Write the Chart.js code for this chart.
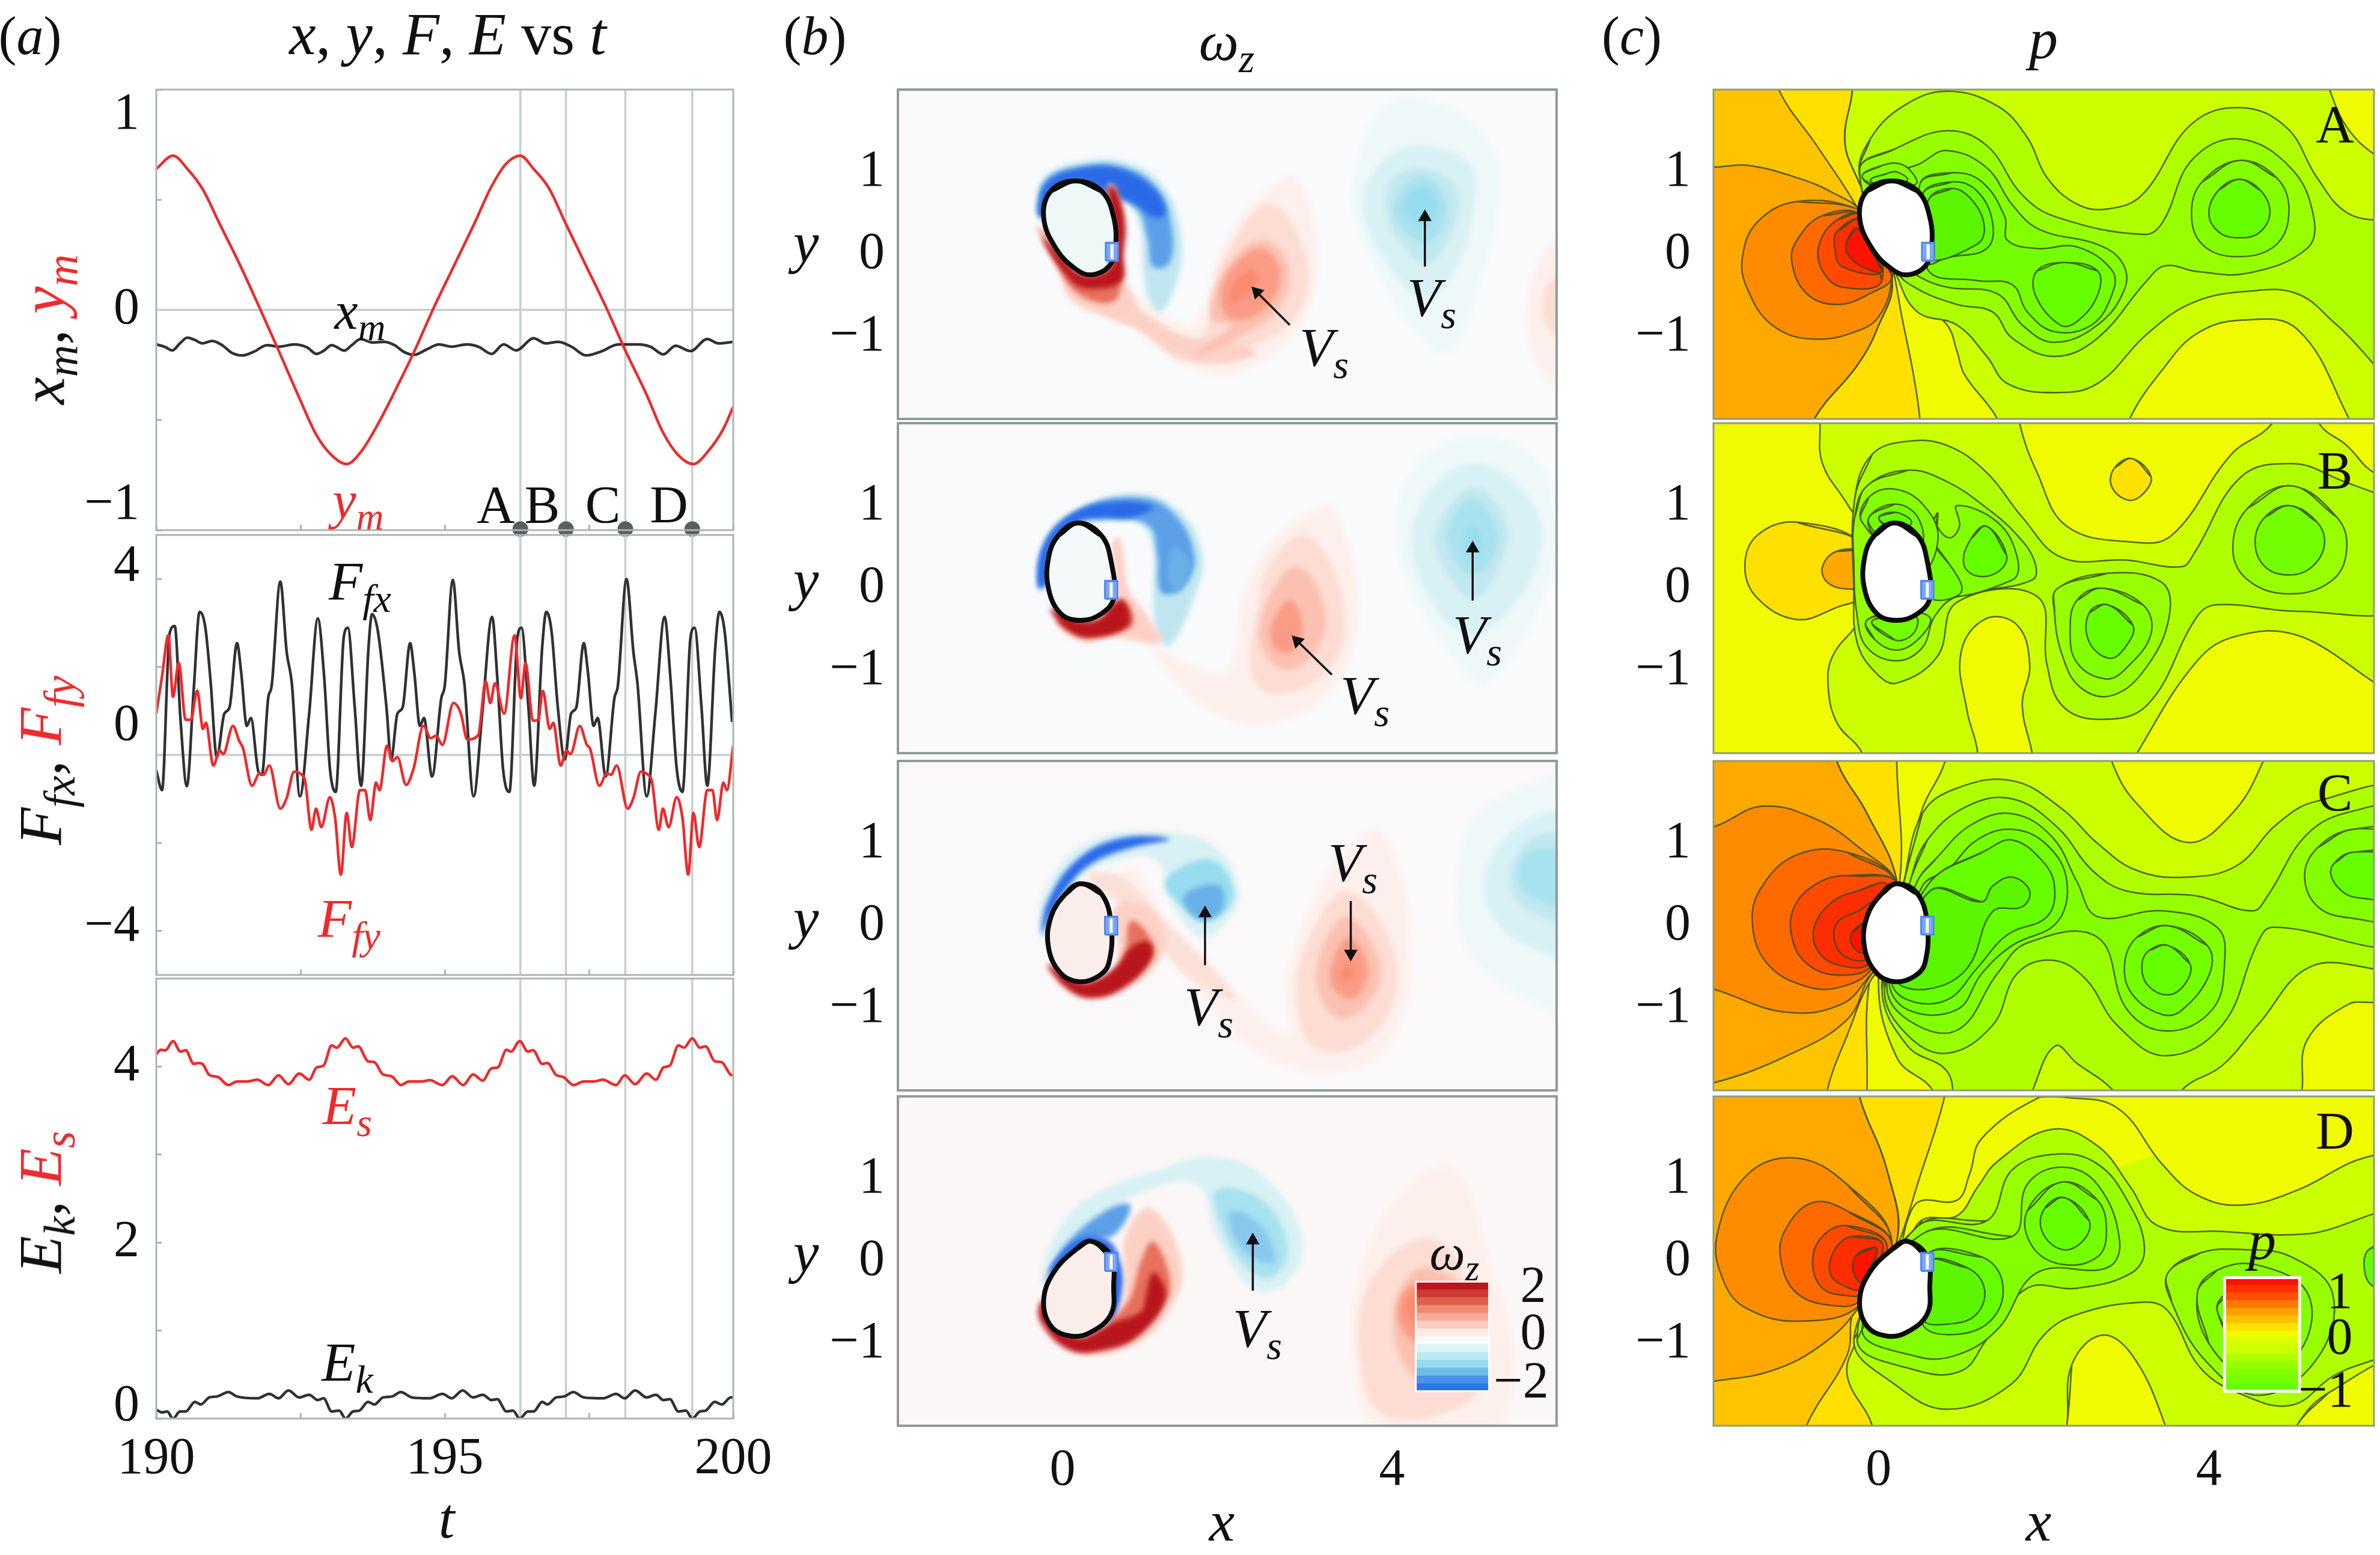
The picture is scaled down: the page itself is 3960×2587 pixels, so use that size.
<!DOCTYPE html>
<html>
<head>
<meta charset="utf-8">
<title>x, y, F, E vs t</title>
<script src="https://cdn.jsdelivr.net/npm/chart.js@4/dist/chart.umd.min.js"></script>
<style>
  html, body { margin: 0; padding: 0; background: #fff; }
  #page { position: relative; width: 3960px; height: 2587px; overflow: hidden; background: #fff; }
  canvas { position: absolute; }
  .lbl { position: absolute; transform: translate(-50%, -50%); white-space: nowrap; font-family: "Liberation Serif", serif; color: #111; z-index: 10; line-height: 1; }
  .lbl sub { font-size: 0.72em; vertical-align: -0.3em; line-height: 0; }
</style>
</head>
<body>
<div id="page"></div>
<script>
// ---- time series ----
var ymTime = [190,190.29,190.54,190.80,191.10,191.44,191.79,192.13,192.48,192.78,193.04,193.30,193.56,193.86,194.21,194.47,194.81,195.16,195.51,195.81,196.07,196.31,196.54,196.80,197.10,197.45,197.80,198.14,198.49,198.79,199.05,199.31,199.57,199.83,200];
var ymValue = [.64,.70,.64,.55,.39,.21,.01,-.19,-.40,-.57,-.66,-.70,-.64,-.51,-.33,-.19,.01,.20,.39,.56,.665,.70,.64,.555,.39,.20,.01,-.19,-.38,-.56,-.66,-.70,-.64,-.54,-.44];
var xmTime = [190,190.15,190.28,190.41,190.54,190.67,190.80,190.97,191.14,191.31,191.49,191.70,191.92,192.13,192.39,192.61,192.78,192.91,193.04,193.26,193.39,193.54,193.74,193.95,194.13,194.30,194.47,194.69,194.90,195.12,195.38,195.59,195.81,196.02,196.24,196.54,196.75,196.97,197.20,197.45,197.71,198.01,198.35,198.57,198.79,199.00,199.26,199.55,199.74,200];
var xmValue = [-.157,-.168,-.184,-.152,-.126,-.137,-.152,-.141,-.16,-.195,-.207,-.189,-.16,-.167,-.157,-.17,-.2,-.184,-.16,-.185,-.16,-.132,-.148,-.145,-.16,-.192,-.204,-.179,-.157,-.167,-.157,-.168,-.2,-.157,-.184,-.129,-.152,-.145,-.168,-.207,-.189,-.157,-.157,-.168,-.202,-.163,-.187,-.132,-.152,-.145];
var ffxTime = [190.00,190.10,190.23,190.32,190.42,190.53,190.65,190.75,190.85,190.94,191.05,191.18,191.27,191.40,191.47,191.57,191.64,191.77,191.83,191.94,192.00,192.15,192.26,192.35,192.49,192.65,192.80,192.91,193.01,193.11,193.25,193.32,193.44,193.55,193.68,193.74,193.84,193.99,194.07,194.18,194.27,194.40,194.47,194.57,194.64,194.78,194.94,195.00,195.14,195.25,195.34,195.50,195.65,195.82,195.91,196.01,196.12,196.26,196.33,196.45,196.55,196.69,196.76,196.85,196.96,197.08,197.19,197.28,197.41,197.48,197.58,197.65,197.79,197.94,198.00,198.15,198.27,198.34,198.50,198.65,198.81,198.91,199.02,199.12,199.26,199.33,199.45,199.55,199.69,199.76,199.85,199.98];
var ffxValue = [-.35,-.80,2.75,2.93,.8,-.71,1.5,3.25,2.9,1.7,-.05,.94,1.08,2.54,1.9,.66,.84,-.38,-.45,1.29,1.57,3.94,2.34,1.63,-.94,.94,3.1,1.77,-.31,-.84,2.68,2.89,1.08,-.7,2.47,3.2,2.82,1.08,-.1,.94,1.08,2.54,1.9,.66,.84,-.49,1.29,1.57,3.98,2.34,1.63,-.94,.94,3.14,1.77,-.31,-.84,2.68,2.89,1.08,-.7,2.47,3.25,2.82,1.08,-.1,.94,1.08,2.54,1.9,.66,.84,-.49,1.29,1.57,4.0,2.34,1.63,-.94,.94,3.14,1.77,-.31,-.84,2.68,2.89,1.08,-.7,2.47,3.25,2.82,.75];
var ffyTime = [190.00,190.10,190.21,190.29,190.39,190.51,190.60,190.71,190.81,190.86,190.99,191.10,191.16,191.33,191.44,191.50,191.66,191.79,191.86,191.96,192.15,192.26,192.39,192.52,192.58,192.69,192.77,192.86,193.01,193.10,193.20,193.30,193.39,193.53,193.62,193.71,193.81,193.87,194.00,194.09,194.18,194.33,194.46,194.63,194.76,194.85,194.96,195.15,195.28,195.39,195.58,195.71,195.79,195.87,196.03,196.21,196.32,196.40,196.53,196.62,196.70,196.82,196.88,197.01,197.11,197.18,197.34,197.46,197.52,197.68,197.81,197.88,197.98,198.17,198.27,198.40,198.52,198.59,198.71,198.78,198.88,199.02,199.12,199.22,199.31,199.41,199.55,199.64,199.72,199.83,199.89,200.00];
var ffyValue = [.94,1.78,2.72,1.32,2.09,.80,.80,1.46,.59,.73,-.24,.10,.02,.66,.31,.17,-.70,-.42,-.45,-.24,-1.22,-.98,-.38,-.45,-.59,-1.70,-1.22,-1.64,-.96,-1.43,-2.72,-1.32,-2.09,-.80,-.80,-1.48,-.63,-.80,.21,-.14,-.05,-.68,-.31,.66,.38,.44,.23,1.18,.94,.35,.45,1.67,1.18,1.63,.94,2.72,1.29,2.09,.78,.80,1.46,.59,.73,-.24,.10,.02,.66,.24,.14,-.70,-.42,-.45,-.24,-1.22,-.98,-.38,-.45,-.59,-1.70,-1.22,-1.64,-.96,-1.43,-2.72,-1.32,-2.09,-.80,-.80,-1.48,-.63,-.80,.21];
var esTime = [190,190.08,190.16,190.29,190.42,190.51,190.65,190.73,190.80,190.92,191.07,191.25,191.40,191.57,191.75,191.94,192.12,192.29,192.48,192.65,192.78,192.90,193.04,193.13,193.28,193.41,193.50,193.67,193.78,193.93,194.08,194.24,194.38,194.60,194.74,194.96,195.13,195.32,195.49,195.66,195.81,195.92,196.07,196.15,196.30,196.44,196.53,196.69,196.78,196.93,197.06,197.23,197.41,197.58,197.74,197.97,198.12,198.30,198.50,198.66,198.79,198.90,199.05,199.15,199.29,199.42,199.52,199.68,199.80,199.96,200];
var esValue = [4.14,4.19,4.185,4.29,4.17,4.185,4.03,4.04,4.03,3.905,3.88,3.79,3.83,3.83,3.85,3.79,3.90,3.80,3.92,3.85,3.99,4.01,4.24,4.215,4.32,4.215,4.23,4.06,4.05,3.91,3.89,3.79,3.83,3.83,3.845,3.79,3.89,3.79,3.91,3.84,3.98,3.99,4.19,4.17,4.29,4.17,4.185,4.03,4.04,3.905,3.88,3.79,3.83,3.83,3.85,3.79,3.90,3.80,3.92,3.85,3.99,4.01,4.24,4.215,4.32,4.215,4.23,4.06,4.05,3.905,3.90];
var ekTime = [190,190.10,190.19,190.29,190.41,190.51,190.67,190.77,190.92,191.05,191.25,191.40,191.75,191.96,192.12,192.29,192.48,192.65,192.80,192.90,193.04,193.17,193.28,193.41,193.52,193.67,193.78,193.93,194.08,194.24,194.43,194.73,194.96,195.12,195.31,195.49,195.66,195.81,195.91,196.07,196.18,196.30,196.44,196.54,196.69,196.78,196.93,197.06,197.23,197.41,197.74,197.97,198.12,198.30,198.50,198.66,198.79,198.90,199.05,199.18,199.29,199.42,199.52,199.68,199.80,199.96,200];
var ekValue = [.10,.07,.08,0,.08,.08,.19,.16,.24,.25,.30,.25,.23,.28,.23,.32,.24,.27,.21,.23,.08,.09,0,.08,.09,.19,.16,.24,.25,.30,.24,.23,.28,.23,.32,.24,.27,.21,.22,.08,.09,0,.08,.08,.19,.16,.24,.25,.30,.24,.23,.28,.23,.32,.24,.27,.21,.22,.08,.09,0,.08,.09,.19,.16,.24,.24];
var eventTimes = [196.31, 197.1, 198.13, 199.29];

var timeTicks = [190, 192.5, 195, 197.5, 200];
var timeTickLabels = ["190", "", "195", "", "200"];
var ymTicks = [-1, -0.5, 0, 0.5, 1];
var ymTickLabels = ["\u22121", "", "0", "", "1"];
var forceTicks = [-4, -2, 0, 2, 4];
var forceTickLabels = ["\u22124", "", "0", "", "4"];
var energyTicks = [0, 1, 2, 3, 4];
var energyTickLabels = ["0", "", "2", "", "4"];
var fieldXTicks = [0, 2, 4];
var fieldXLabels = ["0", "", "4"];
var fieldYTicks = [-1, 0, 1];
var fieldYLabels = ["\u22121", "0", "1"];

// ---- cylinder outline per instant A, B, C, D ----
var bodyA = [.16,.89,.47,.77,.62,.45,.64,.07,.56,-.15,.35,-.25,.16,-.18,-.08,.07,-.23,.45,-.14,.77];
var bodyB = [.19,.79,.47,.64,.59,.32,.62,-.12,.47,-.31,.22,-.39,-.02,-.31,-.17,-.01,-.17,.37,-.05,.64];
var bodyC = [.22,.51,.47,.39,.59,.01,.56,-.46,.44,-.61,.2,-.68,-.02,-.58,-.17,-.27,-.14,.11,.04,.39];
var bodyD = [.35,.24,.59,.05,.62,-.32,.59,-.64,.35,-.86,.1,-.91,-.14,-.79,-.23,-.48,-.11,-.14,.16,.14];
var sensorX = [.6, .59, .59, .59];
var sensorY = [.03, -.02, 0, -.01];

// ---- vorticity levels ----
var omegaColors = ["#b8161c","#e8705c","#fa8a70","#fa9b85","#fbc0b0","#fcd0c5","#fcdcd3","#fbe0d8","#fdf0ec","#eef8f9","#d8f1f4","#c0e8f0","#bfe6f0","#a8e1ef","#97dcef","#88c8ec","#6ab0e8","#5b9fe8","#2a6ae8"];
var omegaBarColors = ["#b8161c","#cf3a34","#e0604f","#ee8a74","#f6ac98","#fbcdc0","#fdeae5","#f6fafa","#ddf3f5","#bce8f0","#98d8ee","#6cbcea","#4a94e8","#2f74e6"];

var omegaA = [
  [8, 2.85,.91, 3.1,-.1, 2.85,-.91, 2.11,-1.46, 1.5,-1.35, .88,-.91, .52,-.59, .39,-.37, .88,-.48, 1.5,-.86, 1.68,-.7, 1.93,.07, 2.42,.72],
  [6, 2.51,.61, 2.97,-.1, 2.79,-.8, 2.11,-1.18, 1.5,-1.3, 1.19,-1.08, 1.5,-1.13, 1.75,-.91, 1.81,-.53, 1.99,.01],
  [5, .45,-.55, .9,-.9, 1.4,-1.22, 1.9,-1.32, 2.35,-1.2, 2.0,-1.05, 1.5,-1.0, 1.0,-.72, .7,-.5],
  [4, 2.39,.17, 2.73,-.1, 2.64,-.64, 2.11,-1.02, 1.62,-1.21, 2.05,-.86, 1.81,-.8, 1.93,-.26],
  [3, 2.39,.07, 2.64,-.2, 2.48,-.64, 2.11,-.8, 1.93,-.64, 1.99,-.26],
  [2, 2.3,-.2, 2.36,-.32, 2.11,-.59, 2.02,-.53, 2.11,-.32],
  [9, 3.9,1.8, 4.5,1.86, 5.19,1.37, 5.31,.72, 5.06,-.37, 4.69,-1.18, 4.26,-.91, 3.65,.17, 3.53,.88],
  [10, 4.36,1.32, 4.94,1.1, 5.0,.61, 4.76,-.21, 4.39,-.53, 3.9,-.04, 3.65,.61, 3.9,1.15],
  [11, 4.36,1.04, 4.76,.83, 4.79,.45, 4.45,-.1, 4.08,.17, 3.93,.61, 4.02,.93],
  [13, 4.36,.95, 4.66,.61, 4.47,.15, 4.15,.28, 4.03,.61],
  [14, 4.38,.82, 4.56,.61, 4.39,.34, 4.18,.5, 4.17,.68],
  [8, 5.68,-.37, 6.0,.17, 6.4,0, 6.4,-1.3, 6,-1.57, 5.68,-1.13],
  [6, 5.9,-.37, 6.4,-.2, 6.4,-1.0, 5.9,-.9],
  [12, -.32,.6, -.2,.95, .21,1.12, .75,1.12, 1.2,.85, 1.42,.35, 1.42,-.2, 1.2,-.7, 1.05,-.55, .98,-.2, .95,.3, .8,.6, .4,.75, .1,.85, -.1,.7, -.25,.4],
  [17, -.3,.55, -.2,.9, .21,1.06, .72,1.06, 1.15,.8, 1.32,.35, 1.3,-.1, 1.1,-.15, 1.03,.2, .9,.55, .45,.78, .15,.88, -.1,.7, -.25,.45],
  [18, -.3,.55, -.18,.88, .21,1.04, .68,1.04, 1.1,.8, 1.25,.5, 1.1,.45, .9,.6, .45,.8, .15,.9, -.1,.72, -.25,.45],
  [5, -.32,.35, -.05,-.2, .1,-.55, .5,-.75, .9,-.85, .85,-.5, .72,-.2, .7,.4, .65,.8, .55,.85, .64,.2, .6,-.15, .35,-.3, .1,-.2],
  [1, -.28,.32, -.05,-.15, .12,-.42, .4,-.58, .65,-.55, .7,-.25, .6,-.2, .35,-.3, .1,-.2],
  [0, -.25,.2, .1,-.32, .35,-.42, .72,-.32, .74,0, .76,.4, .64,.8, .55,.8, .64,.2, .58,-.15, .36,-.26, .12,-.18]
];
var omegaB = [
  [8, 3.28,.97, 3.59,-.12, 3.34,-1.15, 2.54,-1.64, 1.68,-1.42, 1.01,-.61, 1.44,-.88, 1.99,-.99, 2.18,-.12, 2.48,.48, 2.97,.91],
  [6, 2.97,.64, 3.4,-.12, 3.28,-.93, 2.6,-1.29, 2.3,-1.04, 2.36,-.28, 2.54,.32],
  [4, 2.85,.26, 3.18,-.23, 3.1,-.72, 2.73,-.99, 2.42,-.72, 2.48,-.17],
  [3, 2.76,-.15, 2.91,-.45, 2.79,-.77, 2.57,-.72, 2.54,-.45],
  [9, 4.88,1.84, 5.8,1.51, 6.0,.42, 5.19,-1.15, 4.69,-.77, 4.08,.42, 4.2,1.35],
  [10, 4.97,1.51, 5.68,1.08, 5.8,.42, 5.31,-.39, 4.88,-.55, 4.33,.15, 4.33,.97],
  [11, 4.97,1.21, 5.37,.86, 5.37,.42, 5.0,-.12, 4.63,.26, 4.54,.7],
  [13, 4.97,1.08, 5.28,.7, 5.19,.32, 4.97,.15, 4.76,.37, 4.68,.7],
  [14, 4.97,.75, 5.09,.56, 4.97,.37, 4.88,.56],
  [12, -.28,.1, -.2,.6, .2,.95, .85,1.15, 1.4,.95, 1.7,.4, 1.6,-.1, 1.3,-.7, 1.15,-.55, 1.1,-.1, 1.1,.5, .9,.8, .4,.8, .05,.7, -.1,.4, -.18,0],
  [17, -.3,.05, -.2,.55, .2,.95, .85,1.1, 1.3,.95, 1.6,.4, 1.45,0, 1.2,-.05, 1.15,.4, 1.05,.75, .6,.85, .15,.8, -.1,.55, -.18,.1],
  [16, 1.35,.5, 1.55,.3, 1.4,-.05, 1.28,.1],
  [18, -.3,0, -.22,.55, .15,.92, .7,1.05, 1.1,.98, .8,.85, .5,.85, .17,.8, -.1,.55, -.2,.05],
  [5, -.1,-.4, .25,-.65, .6,-.6, 1.2,-.65, 1.0,-.3, .8,0, .7,.6, .6,.55, .65,-.1, .45,-.4, .2,-.4],
  [1, -.05,-.4, .25,-.58, .7,-.5, .85,-.45, .8,-.2, .65,-.15, .45,-.4, .2,-.43],
  [0, -.15,-.25, .05,-.5, .35,-.6, .8,-.45, .74,-.15, .62,-.2, .45,-.37, .22,-.4, 0,-.3]
];
var omegaC = [
  [8, 3.9,1.11, 4.23,-.33, 3.96,-1.45, 3.34,-1.76, 2.73,-1.7, 2.11,-1.33, 1.5,-.58, 1.0,.1, .58,.55, .88,.68, 1.25,.05, 2.05,-.76, 2.73,-1.32, 2.73,-.64, 3.1,.42, 3.53,.99],
  [6, 3.47,.42, 4.05,-.45, 3.77,-1.33, 3.1,-1.51, 2.85,-.95, 2.97,-.2],
  [4, 3.47,.11, 3.86,-.51, 3.65,-1.01, 3.34,-1.11, 3.1,-.76, 3.16,-.26],
  [3, 3.47,-.14, 3.71,-.54, 3.5,-.89, 3.25,-.64],
  [2, 3.47,-.48, 3.54,-.58, 3.45,-.67, 3.38,-.58],
  [9, 6.4,1.7, 5.19,1.49, 4.82,.8, 4.94,-.33, 5.86,-1.01, 6.4,-1.2],
  [10, 6.4,1.2, 5.8,1.36, 5.19,.8, 5.19,.17, 5.68,-.26, 6.4,-.4],
  [11, 6.4,.9, 5.8,1.11, 5.43,.61, 5.68,.17, 6.4,.05],
  [13, 6.4,.75, 5.74,.92, 5.52,.64, 5.74,.33, 6.4,.25],
  [7, .3,.6, .7,.6, 1.3,0, 1.9,-.6, 2.1,-.9, 1.5,-.6, .9,.1],
  [10, -.28,-.14, -.22,.42, .27,.99, 1.0,1.14, 1.81,.99, 2.14,.42, 1.99,.05, 1.68,-.14, 1.31,.3, 1.13,.8, .58,.77, .15,.55, -.16,.18, -.16,-.14],
  [14, 1.25,.55, 1.81,.8, 2.08,.36, 1.75,.05, 1.44,.24],
  [16, 1.47,.36, 1.9,.49, 1.93,.18, 1.65,.08],
  [18, -.25,-.1, -.18,.3, .2,.82, .75,1.07, 1.3,1.05, .85,.95, .35,.75, .05,.45, -.15,.1],
  [5, -.2,-.5, .2,-.85, .75,-.78, 1.22,-.35, 1.15,.1, .85,.3, .62,.2, .68,-.3, .55,-.62, .2,-.7, -.05,-.55],
  [1, .3,-.8, .75,-.68, 1.1,-.35, 1.0,-.05, .82,.05, .76,-.3, .6,-.6],
  [0, -.18,-.47, .05,-.76, .35,-.88, .75,-.75, 1.08,-.4, 1.05,-.2, .85,-.25, .65,-.5, .35,-.68, .1,-.65]
];
var omegaD = [
  [8, 4.75,1.14, 5.19,-.01, 5.49,-1.26, 5.19,-2.07, 3.83,-2.01, 3.53,-1.14, 3.65,-.01, 4.14,.86],
  [6, 4.57,.24, 5.0,-.64, 5.06,-1.58, 3.95,-1.89, 3.59,-.95, 3.9,-.01],
  [4, 4.38,-.08, 5.12,-.64, 4.88,-1.39, 4.26,-1.39, 4.02,-.64],
  [3, 4.33,-.26, 4.88,-.51, 4.57,-1.08, 4.17,-.89, 4.08,-.51],
  [2, 4.26,-.39, 4.57,-.58, 4.36,-.83, 4.17,-.61],
  [10, 1.25,1.14, 1.81,1.27, 2.42,1.05, 2.91,.3, 2.73,-.26, 2.3,-.33, 1.87,.3, 1.62,.93, .88,.8, .52,.55, -.16,-.01, -.28,-.32, -.16,.18, .27,.74],
  [13, 1.87,.86, 2.42,.74, 2.73,.18, 2.54,-.2, 2.24,-.08, 1.93,.42],
  [15, 2.05,.61, 2.42,.42, 2.57,-.01, 2.3,.05, 2.08,.3],
  [17, -.22,-.26, .02,.18, .52,.61, .82,.68, .64,.33, .33,.24, .02,-.01],
  [18, -.16,-.14, .15,.24, .52,.27, .7,-.01, .72,-.4, .58,-.76, .55,-.2, .3,.1],
  [5, 1.07,.64, 1.44,-.01, 1.31,-.58, .88,-1.01, .15,-1.11, -.28,-.76, -.25,-.45, .09,-.89, .58,-.83, .76,-.32, .76,.3],
  [1, 1.1,.24, 1.31,-.26, 1.19,-.58, .82,-.95, .58,-.8, .82,-.45, .95,-.01],
  [0, 1.1,-.14, 1.25,-.45, .9,-.92, .52,-1.08, .09,-1.08, -.27,-.72, -.24,-.5, .15,-.92, .58,-.76, .98,-.58]
];
var omegaBodyFill = ["#eef8f7", "#f4fafa", "#fbeeea", "#fbeeea"];

// arrows: tail x, tail y, head x, head y, per panel
var arrowsA = [[2.76,-.86,2.36,-.46],[4.4,-.15,4.4,.45]];
var arrowsB = [[3.27,-1.05,2.85,-.64],[4.98,-.15,4.98,.48]];
var arrowsC = [[1.73,-.48,1.73,.15],[3.5,.3,3.5,-.34]];
var arrowsD = [[2.31,-.36,2.31,.25]];

// ---- pressure levels ----
var pressureColors = ["#ff1200","#ff2e00","#ff4a00","#ff6a00","#ff8c00","#ffa800","#ffc400","#ffe000","#f0fa00","#ccff00","#b0ff00","#98ff00","#84ff00","#74ff00","#66ff00","#5cf500"];
var pressureBarColors = ["#ff1200","#ff3000","#ff5000","#ff7800","#ffa000","#ffc000","#ffe000","#f0fa00","#d8ff00","#ccff00","#b0ff00","#98ff00","#84ff00","#74ff00","#66ff00"];
var pressureBgLevel = [9, 8, 9, 9];

var pressureA = [
  [8, -3,2.3, -.32,2.3, -.32,1.98, -.41,1.37, -.25,.9, .1,.2, .35,-.4, .83,-.86, .95,-1.18, 1.04,-1.46, 1.44,-2, 1.5,-2.3, -3,-2.3],
  [8, 3.0,-2.3, 3.04,-2, 3.44,-1.4, 3.86,-.96, 4.41,-.8, 5.07,-.91, 5.7,-2, 5.8,-2.3],
  [8, 5.4,2.3, 5.47,1.98, 5.68,1.53, 6.02,1.2, 6.4,1.0, 6.4,2.3],
  [7, -3,2.3, -.32,2.3, -.32,1.98, -.41,1.37, -.25,.9, .1,.2, .2,-.3, .28,-.75, .42,-1.45, .5,-2, .5,-2.3, -3,-2.3],
  [6, -3,2.3, -1.22,2.3, -1.2,1.98, -.75,1.32, -.25,.55, .16,-.3, -.02,-.91, -.26,-1.35, -.78,-2, -.8,-2.3, -3,-2.3],
  [5, -3,1.1, -2,1.06, -1.59,1.08, -.99,.93, -.56,.75, -.2,.5, .16,-.3, -.02,-.91, -.26,-1.35, -.78,-2, -.8,-2.3, -3,-2.3],
  [4, -.26,.55, -.99,.64, -1.47,.39, -1.65,-.04, -1.59,-.42, -1.29,-.86, -.8,-1.03, -.2,-.91, .04,-.7, .16,-.32, .2,.2],
  [3, -.2,.47, -.68,.47, -.99,.17, -1.05,-.1, -.87,-.48, -.5,-.61, -.11,-.48, .16,-.26],
  [2, -.2,.47, -.5,.42, -.72,.12, -.68,-.2, -.44,-.4, .04,-.32],
  [1, -.2,.42, -.5,.28, -.53,.07, -.44,-.15, .04,-.2],
  [0, -.25,.31, -.38,.17, -.38,.01, -.2,-.15, .04,-.2],
  [10, -.23,.95, -.1,1.4, .3,1.8, .83,1.98, 1.44,1.8, 1.8,1.42, 2.04,.93, 2.4,.61, 2.77,.55, 3.19,.72, 3.8,1.59, 4.41,1.78, 4.95,1.53, 5.31,.93, 5.68,.5, 6.4,.25, 6.4,-1.6, 5.55,-.86, 5.07,-.48, 4.47,-.45, 3.8,-.59, 3.25,-.97, 2.65,-1.57, 2.13,-1.68, 1.56,-1.57, 1.31,-1.24, .95,-.86, .47,-.7, .22,-.26],
  [11, -.23,1.02, .22,1.29, .83,1.5, 1.31,1.32, 1.74,.72, 2.16,.45, 3.22,.24, 3.44,.39, 3.8,1.15, 4.37,1.4, 5.0,1.04, 5.27,.45, 5.19,.07, 4.47,-.23, 3.86,-.21, 3.47,-.14, 3.25,-.32, 2.65,-1.02, 2.13,-1.24, 1.62,-1.02, 1.38,-.7, .95,-.61, .47,-.42, .22,-.2],
  [12, .1,.9, .5,1.1, .83,1.26, 1.31,1.05, 1.62,.6, 1.95,.3, 2.65,.12, 2.95,-.1, 2.98,-.42, 2.65,-.86, 2.13,-1.07, 1.74,-.86, 1.44,-.48, .83,-.4, .47,-.26, .3,-.1],
  [13, .5,.85, .89,.99, 1.25,.88, 1.53,.45, 1.56,.17, 1.92,.07, 2.4,.09, 2.83,-.2, 2.83,-.48, 2.58,-.86, 2.13,-.94, 1.8,-.7, 1.62,-.37, 1.19,-.32, .59,-.18],
  [14, .53,.72, .89,.88, 1.19,.77, 1.38,.39, 1.31,.07, .83,-.04, .59,-.1],
  [15, .6,.65, .89,.8, 1.13,.66, 1.28,.34, 1.19,.12, .59,-.04],
  [14, 2.25,-.1, 2.65,-.2, 2.65,-.5, 2.4,-.82, 2.2,-.86, 1.9,-.5, 1.92,-.2],
  [12, 4.38,1.14, 4.82,.93, 4.97,.55, 4.82,.12, 4.34,-.03, 3.92,.12, 3.79,.5, 3.92,.88],
  [14, 4.37,.91, 4.62,.78, 4.74,.52, 4.62,.27, 4.37,.2, 4.12,.27, 4.0,.5, 4.12,.78],
  [12, -.2,.95, .05,1.08, .25,1.1, .4,1.0, .45,.85, 0,.8],
  [13, -.1,.9, .1,.98, .22,1.0, .35,.9, .1,.8]
];
var pressureB = [
  [9, -.71,2.3, -.71,1.99, -.68,1.51, -.38,1.02, -.17,.64, -.2,-.3, -.56,-.83, -.61,-1.21, -.5,-1.64, -.2,-2, -.2,-2.3, 1.15,-2.3, 1.2,-2, 1.07,-1.48, 1.0,-.77, 1.3,-.37, 1.68,-.45, 1.83,-.93, 1.74,-1.42, 1.86,-2, 1.9,-2.3, 3.0,-2.3, 3.13,-2, 3.86,-.88, 4.34,-.58, 5.07,-.57, 6.4,-1.2, 6.4,1.3, 6,1.4, 5.67,1.73, 5.34,1.99, 5.3,2.3, 4.8,2.3, 4.76,1.99, 4.27,1.62, 3.55,.64, 3.07,.56, 2.28,.75, 1.92,1.4, 1.71,1.99, 1.7,2.3],
  [7, -.17,.51, -.99,.8, -1.47,.64, -1.62,.26, -1.47,-.12, -.99,-.38, -.5,-.23, -.17,-.07],
  [5, -.2,.42, -.5,.45, -.68,.26, -.62,.07, -.38,-.01, -.17,.04],
  [7, 3.07,1.57, 3.3,1.35, 3.19,1.13, 3.01,1.07, 2.82,1.24, 2.86,1.46],
  [10, -.29,1.08, -.08,1.62, .35,1.78, .83,1.73, 1.31,1.4, 1.74,.86, 2.22,.37, 3.0,.34, 3.67,.26, 3.82,.42, 4.39,1.35, 5.0,1.51, 5.5,1.35, 6.4,.85, 6.4,-.2, 5.07,-.28, 4.1,-.2, 3.86,-.34, 3.25,-1.42, 2.65,-1.59, 2.22,-1.42, 2.04,-.93, 1.92,-.1, .95,-.17, .71,-.83, .22,-1.15, -.02,-1.04, -.26,-.66, -.3,0],
  [11, -.14,1.24, .35,1.43, .83,1.29, 1.31,.97, 1.68,.64, 1.89,.32, 1.86,.1, .95,-.1, .68,-.34, .53,-.72, .22,-.88, -.14,-.72, -.26,-.34, -.3,.3, -.29,.86],
  [11, 2.16,-.01, 2.77,.18, 3.43,.07, 3.52,-.34, 3.25,-.95, 2.83,-1.3, 2.44,-1.2, 2.22,-.8, 2.13,-.3],
  [12, 2.7,0, 3.2,-.2, 3.3,-.55, 3.0,-.97, 2.75,-1.1, 2.4,-.9, 2.32,-.5, 2.4,-.15],
  [14, 2.77,-.2, 3.08,-.45, 3.0,-.7, 2.8,-.85, 2.55,-.65, 2.55,-.3],
  [11, 5.0,1.24, 5.55,.86, 5.67,.48, 5.5,.1, 4.98,-.07, 4.47,.1, 4.29,.48, 4.47,.97],
  [13, 4.98,1.0, 5.31,.8, 5.4,.53, 5.25,.26, 4.98,.16, 4.68,.26, 4.56,.56, 4.68,.86],
  [12, .71,.91, .71,.75, .86,.61, .98,.75, .95,1.0, 1.44,.8, 1.68,.37, 1.62,.1, .66,-.07, .55,.5],
  [14, 1.31,.75, 1.55,.4, 1.45,.2, 1.18,.15, 1.03,.3, 1.12,.6],
  [13, .55,.6, .85,.3, 1.0,-.05, .6,-.1],
  [12, -.2,.8, -.12,1.1, .2,1.2, .55,1.0, .72,.6, .5,.2],
  [13, -.12,.85, .2,1.02, .48,.85, .5,.5, 0,.6],
  [14, 0,.85, .2,.92, .4,.8, .2,.7],
  [12, -.15,-.4, -.05,-.62, .22,-.75, .5,-.6, .62,-.35, .2,-.3],
  [13, -.08,-.4, .2,-.63, .42,-.55, .45,-.35]
];
var pressureC = [
  [8, .8,2.3, .8,1.98, .53,1.42, .3,.5, 0,-.6, .22,-1.6, .65,-1.99, .7,-2.3, -3,-2.3, -3,2.3],
  [8, 2.8,2.3, 2.83,1.98, 3.13,1.48, 3.74,1.01, 4.28,1.36, 4.65,1.98, 4.7,2.3],
  [8, 5.1,-2.3, 5.13,-1.99, 5.19,-1.39, 5.68,-.96, 6,-.93, 6.4,-.9, 6.4,-2.3],
  [7, .22,2.3, .22,1.98, .25,.5, -.1,-.6, -.14,-1.99, -.14,-2.3, -3,-2.3, -3,2.3],
  [6, -.5,2.3, -.5,1.98, -.14,1.36, .22,.54, .2,-.4, -.08,-.64, -.38,-1.33, -.62,-1.99, -.62,-2.3, -3,-2.3, -3,2.3],
  [5, -.5,2.3, -.5,1.98, -.14,1.36, .22,.54, .2,-.4, -.08,-.58, -.38,-1.14, -1.11,-1.58, -2,-1.91, -3,-2.1, -3,2.3],
  [4, -3,1.0, -2,1.2, -1.41,1.45, -.75,1.29, -.2,.92, .22,.51, .2,-.3, -.08,-.58, -.44,-.95, -1.13,-1.05, -2,-.77, -3,-.5],
  [3, .22,.53, -.38,.89, -.99,.86, -1.41,.48, -1.53,.04, -1.35,-.46, -.87,-.74, -.44,-.74, -.08,-.52, .1,0],
  [2, .22,.53, -.38,.61, -.75,.51, -1.02,.23, -1.05,-.14, -.87,-.46, -.5,-.6, -.08,-.49, .1,0],
  [1, .1,.5, -.26,.42, -.56,.29, -.78,-.02, -.72,-.33, -.44,-.49, -.11,-.46, .1,0],
  [1, -.02,.29, -.26,.17, -.5,.04, -.53,-.2, -.38,-.39, -.11,-.39, .1,0],
  [0, -.1,.05, -.32,-.08, -.32,-.24, -.17,-.33, .1,-.1],
  [10, .3,.5, .53,1.36, .95,1.67, 1.62,1.76, 2.22,1.42, 2.65,1.0, 3.13,.67, 3.74,.59, 4.34,.73, 4.82,1.23, 5.3,1.51, 6.4,1.6, 6.4,-.43, 5.25,-.49, 4.59,-1.21, 4.16,-1.7, 3.68,-1.99, 3.6,-2.3, 3,-2.3, 2.83,-1.99, 2.4,-1.67, 2.14,-1.46, 1.87,-1.99, 1.8,-2.3, 1.0,-2.3, .83,-1.77, .35,-1.46, .04,-.77],
  [11, .38,.53, .59,1.04, 1.07,1.45, 1.62,1.54, 2.16,1.2, 2.59,.67, 3.01,.42, 3.86,.36, 4.53,.18, 4.71,.36, 5.19,1.11, 5.74,1.39, 6.4,1.4, 6.4,-.17, 4.77,-.02, 4.59,-.21, 4.16,-1.21, 3.47,-1.58, 2.89,-1.21, 2.5,-.64, 2.1,-.42, 1.68,-.58, 1.38,-1.21, .83,-1.55, .35,-1.33, .07,-.77],
  [12, .45,.5, .71,.83, 1.13,1.23, 1.62,1.36, 2.1,1.08, 2.4,.54, 2.65,.11, 3.44,.18, 4.1,-.02, 4.19,-.46, 4.04,-1.02, 3.5,-1.28, 3.01,-1.02, 2.65,-.14, 1.8,-.21, 1.44,-.58, .95,-1.27, .35,-1.14, .1,-.71],
  [13, .53,.48, .83,.67, 1.19,1.04, 1.62,1.17, 2.04,.98, 2.28,.54, 2.16,.04, 1.62,-.24, 1.25,-.58, .95,-1.02, .35,-1.02, .13,-.64],
  [14, .6,.5, 1.31,.92, 1.62,1.04, 1.98,.79, 2.13,.48, 2.04,.11, 1.56,-.11, 1.19,-.52, .83,-.9, .35,-.9, .16,-.64],
  [15, .62,.42, 1.25,.29, 1.38,.48, 1.62,.59, 1.83,.42, 1.74,.23, 1.38,.17, 1.07,-.52, .59,-.77, .22,-.64],
  [13, 3.5,0, 3.98,-.24, 4.01,-.58, 3.68,-1.02, 3.44,-1.08, 3.07,-.83, 2.98,-.46, 3.13,-.14],
  [14, 3.5,-.24, 3.77,-.46, 3.71,-.71, 3.5,-.84, 3.25,-.71, 3.19,-.46, 3.28,-.3],
  [12, 5.74,1.17, 5.32,.95, 5.16,.61, 5.32,.23, 5.74,.09, 6.4,.1, 6.4,1.1],
  [14, 5.74,.89, 5.52,.76, 5.48,.61, 5.61,.42, 5.8,.34, 6.4,.35, 6.4,.85]
];
var pressureD = [
  [8, .8,2.3, .3,.3, .47,.71, .95,.74, 1.1,1.05, 1.25,1.49, 1.95,1.99, 2.24,1.99, 2.89,1.86, 3.44,1.17, 3.86,.8, 4.4,.68, 5.07,.86, 5.68,1.18, 6.4,1.5, 6.5,2.3],
  [8, 2.28,-1.99, 2.34,-1.26, 2.7,-.9, 3.07,-1.14, 3.47,-1.99, 3.5,-2.3, 2.2,-2.3],
  [8, 5.07,-1.99, 5.45,-1.6, 6.4,-1.2, 6.4,-2.3, 5,-2.3],
  [7, .8,2.3, .8,2, .47,.93, .25,.24, -.26,-.95, -.38,-1.39, -.08,-1.99, -.08,-2.3, -3,-2.3, -3,2.3],
  [6, -.23,2.3, -.23,1.99, .1,1.11, .22,.24, -.3,-.6, -.38,-1.14, -.87,-1.99, -.9,-2.3, -3,-2.3, -3,2.3],
  [5, -3,-1.6, -2,-1.46, -1.29,-1.33, -.68,-1.01, -.23,-.55, .22,.24, .1,1.11, -.23,1.99, -.23,2.3, -3,2.3],
  [4, .16,.24, -.38,.93, -.99,1.25, -1.59,1.05, -1.96,.3, -1.87,-.26, -1.59,-.58, -.96,-.73, -.23,-.54],
  [3, .16,.21, -.38,.61, -.8,.71, -1.14,.36, -1.18,-.01, -.99,-.39, -.56,-.54, -.23,-.48],
  [2, .1,.2, -.38,.43, -.68,.3, -.8,-.01, -.68,-.33, -.38,-.42, -.2,-.39],
  [1, .05,.2, -.32,.3, -.53,.14, -.59,-.14, -.44,-.29, -.2,-.33],
  [0, -.02,.15, -.26,.08, -.31,-.11, -.2,-.26],
  [10, .35,.2, .53,.5, .95,.55, 1.2,.9, 1.44,1.21, 2.1,1.6, 2.65,1.4, 3.05,.9, 3.38,.43, 4.16,.36, 5.19,.33, 6.4,.55, 6.4,-.9, 5.5,-1.4, 5.0,-1.75, 4.4,-1.62, 3.9,-1.3, 3.5,-.6, 3.2,-.5, 2.4,-.65, 2.0,-.9, 1.6,-1.5, .83,-1.8, .2,-1.5, -.3,-.95],
  [11, .47,.42, 1.31,.49, 1.62,1.11, 2.16,1.3, 2.65,1.18, 3.01,.74, 3.22,.17, 3.07,-.14, 2.4,-.33, 1.8,-.33, 1.31,-.95, 1.01,-1.33, .47,-1.33, -.26,-.95],
  [12, .53,.33, 1.62,.3, 1.8,.93, 2.22,1.14, 2.65,.93, 2.92,.24, 2.77,-.08, 1.92,-.14, 1.44,-.83, .95,-1.14, .47,-1.16, -.2,-.83],
  [13, 2.22,.96, 2.65,.74, 2.76,.36, 2.65,.05, 2.22,-.04, 1.86,.18, 1.8,.61],
  [14, 2.25,.77, 2.55,.49, 2.47,.24, 2.22,.14, 1.98,.36, 2.01,.64],
  [14, .59,.08, 1.25,.05, 1.5,-.26, 1.38,-.7, .95,-.89, .53,-.76],
  [15, .59,-.01, 1.07,-.08, 1.28,-.33, 1.19,-.64, .89,-.76, .53,-.7],
  [11, 3.5,-.15, 3.9,.1, 4.4,.14, 5.0,.05, 5.5,-.4, 5.3,-1.2, 4.6,-1.63, 3.95,-1.2, 3.55,-.5],
  [12, 3.86,-.39, 4.1,-.11, 4.6,-.05, 5.2,-.4, 5.1,-1.1, 4.5,-1.4, 4.0,-1.0],
  [13, 4.1,-.6, 4.3,-.35, 4.8,-.4, 5.0,-.9, 4.5,-1.15],
  [14, 6.4,.3, 5.95,.15, 5.88,-.05, 5.98,-.3, 6.4,-.4]
];

// colour bars sit inside the last panel of each column, in data units of that panel
var omegaBarBox = [4.29, 5.18, -.25, -1.58];
var pressureBarBox = [4.19, 5.1, -.2, -1.58];

var SERIF = '"Liberation Serif", "Times New Roman", serif';
var RED = "#ee2a2c";
var DARK = "#2f3132";
var AXIS_GREY = "#aab5b1";

Chart.defaults.animation = false;
Chart.defaults.font.family = SERIF;

var page = document.getElementById("page");

function addText(x, y, html, size, color, rotate) {
  var el = document.createElement("div");
  el.className = "lbl";
  el.style.left = x + "px";
  el.style.top = y + "px";
  el.style.fontSize = size + "px";
  if (color) el.style.color = color;
  if (rotate) el.style.transform = "translate(-50%, -50%) rotate(" + rotate + "deg)";
  el.innerHTML = html;
  page.appendChild(el);
}

function pairs(xs, ys) {
  return xs.map(function (x, i) { return { x: x, y: ys[i] }; });
}

// flat [x,y,x,y...] into points, wrapped so the spline closes smoothly
function ringPoints(flat) {
  var pts = [];
  for (var i = 0; i < flat.length; i += 2) pts.push({ x: flat[i], y: flat[i + 1] });
  return [pts[pts.length - 1]].concat(pts, [pts[0], pts[1]]);
}

function rectPoints(x0, x1, y0, y1) {
  return [{ x: x0, y: y0 }, { x: x1, y: y0 }, { x: x1, y: y1 }, { x: x0, y: y1 }, { x: x0, y: y0 }];
}

function shape(points, fillColor, lineColor, lineWidth, tension) {
  return {
    data: points, showLine: true, pointRadius: 0, fill: "shape",
    backgroundColor: fillColor, borderColor: lineColor || "transparent",
    borderWidth: lineWidth || 0, tension: tension,
  };
}

function withOrder(datasets) {
  datasets.forEach(function (d, i) { d.order = -i; });
  return datasets;
}

// inward ticks, labels from the named arrays, optional vertical nudge of a label
function axis(position, min, max, ticks, labels, o) {
  var horizontal = position === "bottom";
  var shifts = o.shifts || {};
  return {
    type: "linear", position: position, min: min, max: max, z: 1,
    afterBuildTicks: function (scale) {
      scale.ticks = ticks.map(function (v) { return { value: v }; });
    },
    afterFit: function (scale) {
      if (horizontal) scale.height = o.size; else scale.width = o.size;
    },
    border: { display: false },
    grid: { drawOnChartArea: false, color: AXIS_GREY, lineWidth: 3, tickLength: -o.tick },
    ticks: {
      autoSkip: false, maxRotation: 0, color: "#111", padding: o.pad,
      callback: function (v) {
        var label = labels[ticks.indexOf(v)];
        var s = shifts[v];
        if (!s) return label;
        return s > 0 ? ["", label] : [label, ""];
      },
      font: function (ctx) {
        var s = ctx.tick ? shifts[ctx.tick.value] : 0;
        return { family: SERIF, size: o.font || 86, lineHeight: s ? (2 * Math.abs(s)) + "px" : 1.2 };
      },
    },
  };
}

var panelFrame = {
  id: "panelFrame",
  afterDraw: function (chart, args, opts) {
    var a = chart.chartArea, c = chart.ctx;
    c.save();
    c.strokeStyle = opts.color;
    c.lineWidth = opts.width;
    c.strokeRect(a.left, a.top, a.right - a.left, a.bottom - a.top);
    c.restore();
  },
};

// blurs the first softCount datasets so the colour bands run together
var softField = {
  id: "softField",
  beforeDatasetsDraw: function (chart, args, opts) {
    if (opts.blur) chart.ctx.filter = "blur(" + opts.blur + "px)";
  },
  afterDatasetDraw: function (chart, args, opts) {
    if (args.index === opts.count - 1) chart.ctx.filter = "none";
  },
  afterDatasetsDraw: function (chart) { chart.ctx.filter = "none"; },
};

function makeChart(box, margins, datasets, scales, frame, soft) {
  var canvas = document.createElement("canvas");
  var w = box[1] - box[0] + margins.left + margins.right;
  var h = box[3] - box[2] + margins.top + margins.bottom;
  canvas.width = w;
  canvas.height = h;
  canvas.style.left = box[0] - margins.left + "px";
  canvas.style.top = box[2] - margins.top + "px";
  canvas.style.width = w + "px";
  canvas.style.height = h + "px";
  page.appendChild(canvas);
  return new Chart(canvas.getContext("2d"), {
    type: "scatter",
    data: { datasets: withOrder(datasets) },
    options: {
      responsive: false, animation: false, devicePixelRatio: 1,
      layout: { padding: { top: margins.top, right: margins.right, left: 0, bottom: 0 } },
      plugins: {
        legend: { display: false }, tooltip: { enabled: false },
        panelFrame: frame, softField: soft || { blur: 0, count: -1 },
      },
      scales: scales,
    },
    plugins: [panelFrame, softField],
  });
}

// ---- panel (a) ----
function eventLines(yMin, yMax) {
  return eventTimes.map(function (t) {
    return { data: [{ x: t, y: yMin }, { x: t, y: yMax }], showLine: true, pointRadius: 0, borderColor: "#c5cfcb", borderWidth: 3.5 };
  });
}

function curve(xs, ys, color, width) {
  return { data: pairs(xs, ys), showLine: true, pointRadius: 0, borderColor: color, borderWidth: width || 4.5, cubicInterpolationMode: "monotone" };
}

function zeroLine() {
  return { data: [{ x: 190, y: 0 }, { x: 200, y: 0 }], showLine: true, pointRadius: 0, borderColor: "#c5cfcb", borderWidth: 3.5 };
}

var aMargins = { left: 260, right: 120, top: 150, bottom: 150 };
var aFrame = { color: AXIS_GREY, width: 3 };

makeChart([260, 1220, 149, 882], aMargins,
  eventLines(-1, 1).concat([zeroLine(), curve(xmTime, xmValue, DARK), curve(ymTime, ymValue, RED),
    { data: eventTimes.map(function (t) { return { x: t, y: -0.995 }; }), pointRadius: 13, backgroundColor: "#565f61", borderWidth: 0, clip: false }]),
  {
    x: axis("bottom", 190, 200, timeTicks, ["", "", "", "", ""], { size: 150, tick: 9, pad: 30 }),
    y: axis("left", -1, 1, ymTicks, ymTickLabels, { size: 260, tick: 9, pad: 37, shifts: { 1: 42, "-1": -42 } }),
  }, aFrame);

makeChart([260, 1220, 890, 1622], aMargins,
  eventLines(-5, 5).concat([zeroLine(), curve(ffxTime, ffxValue, DARK), curve(ffyTime, ffyValue, RED)]),
  {
    x: axis("bottom", 190, 200, timeTicks, ["", "", "", "", ""], { size: 150, tick: 9, pad: 30 }),
    y: axis("left", -5, 5, forceTicks, forceTickLabels, { size: 260, tick: 9, pad: 37, shifts: { 0: -48, 4: -20, "-4": -6 } }),
  }, aFrame);

makeChart([260, 1220, 1628, 2360], aMargins,
  eventLines(0, 5).concat([curve(esTime, esValue, RED), curve(ekTime, ekValue, DARK)]),
  {
    x: axis("bottom", 190, 200, timeTicks, timeTickLabels, { size: 150, tick: 9, pad: 26 }),
    y: axis("left", 0, 5, energyTicks, energyTickLabels, { size: 260, tick: 9, pad: 37, shifts: { 0: -20 } }),
  }, aFrame);

// ---- panels (b) and (c) ----
function bodyDatasets(body, fill, idx) {
  var sx = sensorX[idx], sy = sensorY[idx];
  return [
    shape(ringPoints(body), fill, "#0c0c0c", 8, 0.4),
    shape(rectPoints(sx - .075, sx + .075, sy - .11, sy + .11), "#7da8f2", "#4f86ee", 3, 0),
    shape(rectPoints(sx - .018, sx + .018, sy - .09, sy + .09), "#ffffff", "transparent", 0, 0),
  ];
}

function arrowDatasets(list) {
  return list.map(function (a) {
    var pxX = (a[2] - a[0]) * 137, pxY = (a[3] - a[1]) * 137;
    var rot = Math.atan2(pxX, pxY) * 180 / Math.PI;
    return {
      data: [{ x: a[0], y: a[1] }, { x: a[2], y: a[3] }], showLine: true,
      borderColor: "#111", backgroundColor: "#111", borderWidth: 3.5,
      pointRadius: [0, 13], pointRotation: [0, rot], pointStyle: "triangle", pointBorderWidth: 0,
    };
  });
}

function barDatasets(colors, box, borderWidth) {
  var step = (box[2] - box[3]) / colors.length;
  var out = colors.map(function (c, i) {
    return shape(rectPoints(box[0], box[1], box[2] - i * step, box[2] - (i + 1) * step - .005), c, "transparent", 0, 0);
  });
  out.push({ data: rectPoints(box[0], box[1], box[2], box[3]), showLine: true, pointRadius: 0, borderColor: "#ffffff", borderWidth: borderWidth, tension: 0 });
  return out;
}

var rowTops = [149, 704, 1266, 1824];
var rowBottoms = [697, 1253, 1814, 2372];
var omegaFields = [omegaA, omegaB, omegaC, omegaD];
var pressureFields = [pressureA, pressureB, pressureC, pressureD];
var bodies = [bodyA, bodyB, bodyC, bodyD];
var omegaArrows = [arrowsA, arrowsB, arrowsC, arrowsD];
var omegaBg = ["#f9fafc", "#f9fafc", "#fbf8f9", "#fcf7f7"];

rowTops.forEach(function (top, r) {
  var bottom = rowBottoms[r];
  var last = r === 3;
  var xSize = last ? 150 : 130;
  var margins = { left: 240, right: 110, top: 130, bottom: xSize };

  // vorticity
  var soft = [shape(rectPoints(-3, 7, -3, 3), omegaBg[r], "transparent", 0, 0)].concat(
    omegaFields[r].map(function (f) { return shape(ringPoints(f.slice(1)), omegaColors[f[0]], "transparent", 0, 0.4); })
  );
  var overlay = bodyDatasets(bodies[r], omegaBodyFill[r], r).concat(arrowDatasets(omegaArrows[r]));
  if (last) overlay = overlay.concat(barDatasets(omegaBarColors, omegaBarBox, 3));
  makeChart([1494, 2590, top, bottom], margins, soft.concat(overlay), {
    x: axis("bottom", -2, 6, fieldXTicks, last ? fieldXLabels : ["", "", ""], { size: xSize, tick: 16, pad: 40 }),
    y: axis("left", -2, 2, fieldYTicks, fieldYLabels, { size: 240, tick: 16, pad: 38 }),
  }, { color: "#8f9c98", width: 4 }, { blur: 4, count: soft.length });

  // pressure
  var filled = [shape(rectPoints(-3, 7, -3, 3), pressureColors[pressureBgLevel[r]], "transparent", 0, 0)].concat(
    pressureFields[r].map(function (f) { return shape(ringPoints(f.slice(1)), pressureColors[f[0]], "rgba(55,75,30,0.85)", 2.5, 0.4); })
  );
  var top2 = bodyDatasets(bodies[r], "#ffffff", r);
  if (last) top2 = top2.concat(barDatasets(pressureBarColors, pressureBarBox, 5));
  makeChart([2851, 3950, top, bottom], { left: 240, right: 110, top: 130, bottom: xSize }, filled.concat(top2), {
    x: axis("bottom", -2, 6, fieldXTicks, last ? fieldXLabels : ["", "", ""], { size: xSize, tick: 16, pad: 40 }),
    y: axis("left", -2, 2, fieldYTicks, fieldYLabels, { size: 240, tick: 16, pad: 54 }),
  }, { color: "#8f9c78", width: 3 });
});

// ---- text ----
var I = function (s) { return "<i>" + s + "</i>"; };
function sub(a, b) { return I(a) + "<sub>" + I(b) + "</sub>"; }

addText(50, 60, "(" + I("a") + ")", 90);
addText(1356, 60, "(" + I("b") + ")", 90);
addText(2715, 60, "(" + I("c") + ")", 90);
addText(745, 57, I("x") + ", " + I("y") + ", " + I("F") + ", " + I("E") + " vs " + I("t"), 100);
addText(2041, 68, sub("\u03c9", "z"), 94);
addText(3400, 65, I("p"), 96);

addText(72, 548, sub("x", "m") + ', <span style="color:' + RED + '">' + sub("y", "m") + "</span>", 103, null, -90);
addText(68, 1265, sub("F", "fx") + ', <span style="color:' + RED + '">' + sub("F", "fy") + "</span>", 102, null, -90);
addText(68, 2000, sub("E", "k") + ', <span style="color:' + RED + '">' + sub("E", "s") + "</span>", 102, null, -90);

addText(599, 518, sub("x", "m"), 88);
addText(596, 833, sub("y", "m"), 88, RED);
addText(825, 840, "A", 88);
addText(902, 840, "B", 88);
addText(1003, 840, "C", 88);
addText(1113, 840, "D", 88);
addText(599, 967, sub("F", "fx"), 92);
addText(581, 1528, sub("F", "fy"), 92, RED);
addText(578, 1839, sub("E", "s"), 92, RED);
addText(578, 2266, sub("E", "k"), 92);
addText(743, 2526, I("t"), 96);
addText(2033, 2531, I("x"), 96);
addText(3392, 2531, I("x"), 96);

[404, 965, 1528, 2084].forEach(function (y) { addText(1341, y, I("y"), 96); });

addText(2203, 578, sub("V", "s"), 92);
addText(2382, 495, sub("V", "s"), 92);
addText(2271, 1157, sub("V", "s"), 92);
addText(2458, 1056, sub("V", "s"), 92);
addText(2011, 1675, sub("V", "s"), 92);
addText(2251, 1435, sub("V", "s"), 92);
addText(2092, 2210, sub("V", "s"), 92);

addText(2420, 2084, sub("\u03c9", "z"), 84);
addText(2551, 2137, "2", 86);
addText(2551, 2215, "0", 86);
addText(2531, 2296, "\u22122", 86);

addText(3885, 207, "A", 88);
addText(3885, 783, "B", 88);
addText(3885, 1319, "C", 88);
addText(3885, 1882, "D", 88);
addText(3764, 2064, I("p"), 92);
addText(3893, 2147, "1", 86);
addText(3893, 2223, "0", 86);
addText(3870, 2311, "\u22121", 86);
</script>
</body>
</html>
